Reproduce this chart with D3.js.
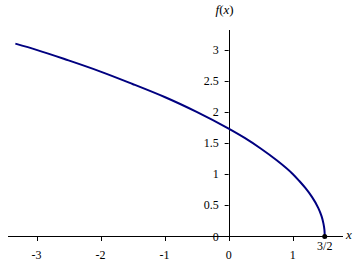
<!DOCTYPE html>
<html>
<head>
<meta charset="utf-8">
<script src="https://cdn.jsdelivr.net/npm/d3@7"></script>
<style>
body { margin: 0; background: #fff; }
</style>
</head>
<body>
<div id="vis"></div>
<script>
// curve points
var xs = [-3.33, -3, -2.5, -2, -1.5, -1, -0.5, 0, 0.25, 0.5, 0.75, 1, 1.1, 1.2, 1.3, 1.4, 1.45, 1.48, 1.495, 1.5];
var ys = [3.10, 3.00, 2.83, 2.65, 2.45, 2.24, 2.00, 1.73, 1.58, 1.41, 1.22, 1.00, 0.89, 0.77, 0.63, 0.45, 0.32, 0.20, 0.10, 0];
var xTicks = [-3, -2, -1, 0, 1];
var yTicks = [0, 0.5, 1, 1.5, 2, 2.5, 3];
var endPoint = [1.5, 0];
var endLabel = "3/2";

var width = 355, height = 263;
var svg = d3.select("#vis").append("svg")
    .attr("width", width)
    .attr("height", height)
    .attr("font-family", "'Liberation Serif', serif")
    .attr("font-size", 12);

var x = d3.scaleLinear().domain([-3.445, 1.785]).range([8, 343]);
var y = d3.scaleLinear().domain([0, 3.32]).range([236, 30]);

// x axis
svg.append("line")
    .attr("x1", x.range()[0]).attr("x2", x.range()[1])
    .attr("y1", y(0) + 0.5).attr("y2", y(0) + 0.5)
    .attr("stroke", "#000").attr("stroke-width", 1);
svg.selectAll(".xt").data(xTicks).enter().append("line")
    .attr("x1", function(d) { return Math.round(x(d)) + 0.5; })
    .attr("x2", function(d) { return Math.round(x(d)) + 0.5; })
    .attr("y1", y(0)).attr("y2", y(0) + 5)
    .attr("stroke", "#000");
svg.selectAll(".xl").data(xTicks).enter().append("text")
    .attr("x", function(d) { return x(d); })
    .attr("y", y(0) + 23)
    .attr("text-anchor", "middle")
    .text(function(d) { return d; });

// y axis
svg.append("line")
    .attr("x1", Math.round(x(0)) + 0.5).attr("x2", Math.round(x(0)) + 0.5)
    .attr("y1", y.range()[1]).attr("y2", y(0) + 1)
    .attr("stroke", "#000");
svg.selectAll(".yt").data(yTicks).enter().append("line")
    .attr("x1", x(0) - 4).attr("x2", x(0))
    .attr("y1", function(d) { return Math.round(y(d)) + 0.5; })
    .attr("y2", function(d) { return Math.round(y(d)) + 0.5; })
    .attr("stroke", "#000");
svg.selectAll(".yl").data(yTicks).enter().append("text")
    .attr("x", x(0) - 10)
    .attr("y", function(d) { return y(d) + 4.5; })
    .attr("text-anchor", "end")
    .text(function(d) { return d; });

// axis titles
svg.append("text")
    .attr("x", 349).attr("y", y(0) + 3)
    .attr("text-anchor", "middle")
    .attr("font-style", "italic").attr("font-size", 13)
    .text("x");
svg.append("text")
    .attr("x", x(0) - 4).attr("y", 14)
    .attr("text-anchor", "middle")
    .attr("font-size", 13)
    .html('<tspan font-style="italic">f</tspan>(<tspan font-style="italic">x</tspan>)');

// curve
var pts = xs.map(function(d, i) { return [d, ys[i]]; });
var line = d3.line()
    .x(function(d) { return x(d[0]); })
    .y(function(d) { return y(d[1]); })
    .curve(d3.curveMonotoneY);
svg.append("path")
    .datum(pts)
    .attr("d", line)
    .attr("fill", "none")
    .attr("stroke", "#000080")
    .attr("stroke-width", 2);

// end point
svg.append("circle")
    .attr("cx", x(endPoint[0])).attr("cy", y(endPoint[1]) + 0.5)
    .attr("r", 2.5)
    .attr("fill", "#000");
svg.append("text")
    .attr("x", x(endPoint[0])).attr("y", y(0) + 14)
    .attr("text-anchor", "middle")
    .text(endLabel);
</script>
</body>
</html>
